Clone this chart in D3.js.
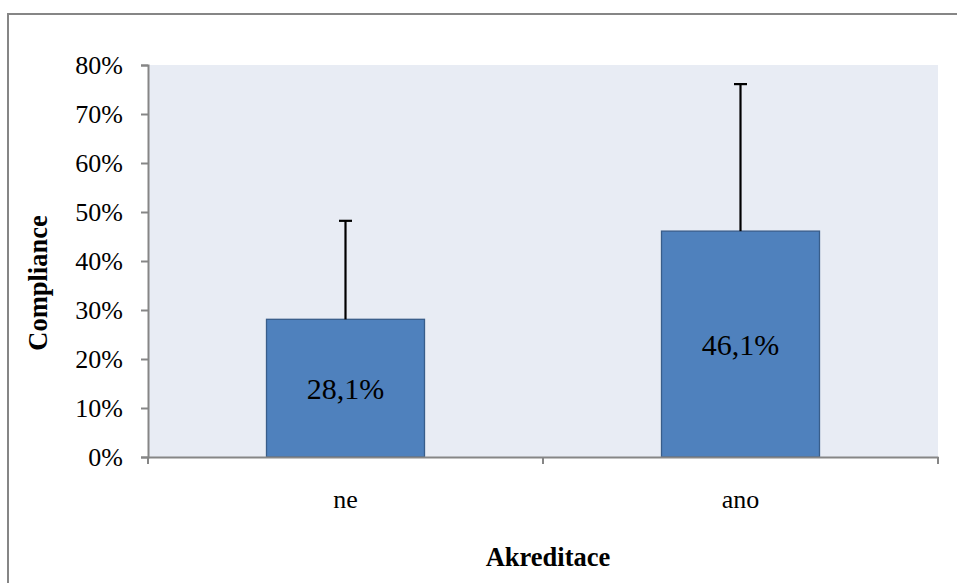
<!DOCTYPE html>
<html><head><meta charset="utf-8">
<script src="https://cdn.jsdelivr.net/npm/d3@7"></script>
<style>html,body{margin:0;padding:0;background:#fff;}svg{display:block;}</style>
</head><body>
<script>
const categories = ["ne", "ano"];
const values = [28.1, 46.1];
const errors = [20.1, 30.0];
const yTicks = [0, 10, 20, 30, 40, 50, 60, 70, 80];

const W = 957, H = 583;
const m = {left: 148, right: 19, top: 65, bottom: 126};
const svg = d3.select("body").append("svg").attr("width", W).attr("height", H);
const font = "'Liberation Serif', 'Times New Roman', serif";

// outer border
svg.append("path").attr("d", `M8,${H+5} L8,14 L${W+5},14`)
  .attr("fill", "none").attr("stroke", "#868686").attr("stroke-width", 2);

const x = d3.scaleBand().domain(categories).range([m.left, W - m.right]).paddingInner(0).paddingOuter(0);
const y = d3.scaleLinear().domain([0, 80]).range([H - m.bottom, m.top]);

svg.append("rect").attr("x", m.left).attr("y", m.top)
  .attr("width", W - m.right - m.left).attr("height", H - m.bottom - m.top)
  .attr("fill", "#E8ECF4");

const bw = x.bandwidth() * 0.4;
const g = svg.append("g");
g.selectAll("rect.bar").data(values).join("rect").attr("class", "bar")
  .attr("x", (d, i) => x(categories[i]) + x.bandwidth() / 2 - bw / 2)
  .attr("y", d => y(d))
  .attr("width", bw)
  .attr("height", d => y(0) - y(d))
  .attr("fill", "#4F81BD").attr("stroke", "#385D8A").attr("stroke-width", 1.3);

// error bars
const eb = svg.append("g").attr("stroke", "#000").attr("stroke-width", 2.2);
values.forEach((v, i) => {
  const cx = x(categories[i]) + x.bandwidth() / 2;
  eb.append("line").attr("x1", cx).attr("x2", cx).attr("y1", y(v)).attr("y2", y(v + errors[i]));
  eb.append("line").attr("x1", cx - 6.5).attr("x2", cx + 6.5).attr("y1", y(v + errors[i])).attr("y2", y(v + errors[i]));
});

// value labels
svg.selectAll("text.val").data(values).join("text").attr("class", "val")
  .attr("x", (d, i) => x(categories[i]) + x.bandwidth() / 2)
  .attr("y", d => (y(d) + y(0)) / 2)
  .attr("dy", "0.35em").attr("text-anchor", "middle")
  .attr("font-family", font).attr("font-size", 30).attr("fill", "#000")
  .text(d => d.toFixed(1).replace(".", ",") + "%");

// y axis
const yAxis = svg.append("g").attr("transform", `translate(${m.left},0)`)
  .call(d3.axisLeft(y).tickValues(yTicks).tickSize(7).tickPadding(18).tickFormat(d => d + "%"));
yAxis.select(".domain").attr("stroke", "#868686").attr("stroke-width", 2);
yAxis.selectAll(".tick line").attr("stroke", "#868686").attr("stroke-width", 2);
yAxis.selectAll(".tick text").attr("font-family", font).attr("font-size", 26).attr("fill", "#000");

// x axis
const xAxis = svg.append("g").attr("transform", `translate(0,${H - m.bottom})`)
  .call(d3.axisBottom(x).tickSize(0).tickPadding(33));
xAxis.select(".domain").attr("stroke", "#868686").attr("stroke-width", 2);
xAxis.selectAll(".tick text").attr("font-family", font).attr("font-size", 26).attr("fill", "#000");
// category boundary ticks
const bounds = [m.left, m.left + x.bandwidth(), W - m.right];
xAxis.selectAll("line.bt").data(bounds).join("line").attr("class", "bt")
  .attr("x1", d => d).attr("x2", d => d).attr("y1", 0).attr("y2", 7)
  .attr("stroke", "#868686").attr("stroke-width", 2);

// titles
svg.append("text").attr("transform", `translate(47,283) rotate(-90)`)
  .attr("text-anchor", "middle").attr("font-family", font).attr("font-weight", "bold")
  .attr("font-size", 26.5).text("Compliance");
svg.append("text").attr("x", (m.left + W - m.right) / 2 + 5).attr("y", 566)
  .attr("text-anchor", "middle").attr("font-family", font).attr("font-weight", "bold")
  .attr("font-size", 26.5).text("Akreditace");
</script>
</body></html>
